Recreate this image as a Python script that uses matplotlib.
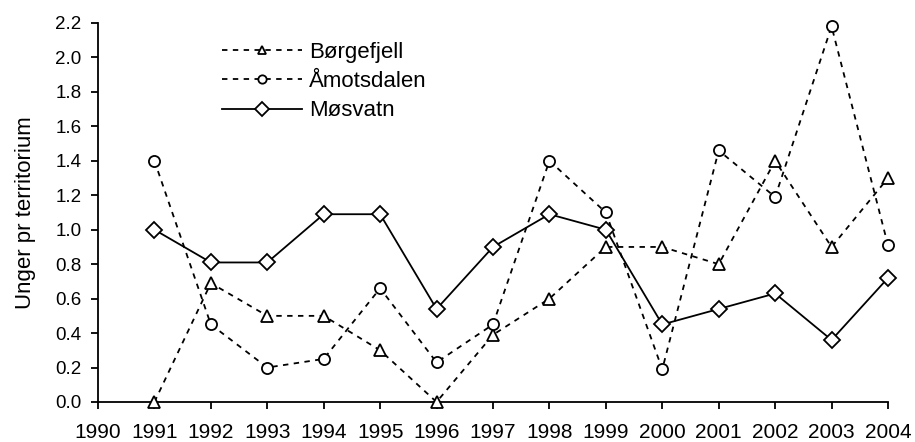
import matplotlib
matplotlib.use("Agg")
import matplotlib.pyplot as plt
from matplotlib.lines import Line2D

years = [1991, 1992, 1993, 1994, 1995, 1996, 1997, 1998, 1999, 2000, 2001, 2002, 2003, 2004]
borgefjell = [0.0, 0.69, 0.50, 0.50, 0.30, 0.0, 0.39, 0.60, 0.90, 0.90, 0.80, 1.40, 0.90, 1.30]
amotsdalen = [1.40, 0.45, 0.20, 0.25, 0.66, 0.23, 0.45, 1.40, 1.10, 0.19, 1.46, 1.19, 2.18, 0.91]
mosvatn = [1.00, 0.81, 0.81, 1.09, 1.09, 0.54, 0.90, 1.09, 1.00, 0.45, 0.54, 0.63, 0.36, 0.72]
series_names = ["Børgefjell", "Åmotsdalen", "Møsvatn"]
xticks = list(range(1990, 2005))
yticks = [0.0, 0.2, 0.4, 0.6, 0.8, 1.0, 1.2, 1.4, 1.6, 1.8, 2.0, 2.2]

plt.rcParams['font.family'] = ['Liberation Sans', 'DejaVu Sans']

fig = plt.figure(figsize=(9.15, 4.42), dpi=100)
ax = fig.add_axes([98/915, 1-402/442, (888-98)/915, (402-23)/442])

dash = (0, (3, 3))
styles = [
    dict(ls=dash, marker='^', ms=9),
    dict(ls=dash, marker='o', ms=8),
    dict(ls='-', marker='D', ms=8),
]
legend_ms = [6, 6, 7]
for vals, name, st in zip([borgefjell, amotsdalen, mosvatn], series_names, styles):
    ax.plot(years, vals, color='black', lw=1.3, ls=st['ls'], marker=st['marker'],
            ms=st['ms'], mfc='white', mec='black', mew=1.3, label=name, clip_on=False,
            zorder=3)

handles = [Line2D([0], [0], color='black', lw=1.3, ls=st['ls'], marker=st['marker'],
                  ms=m, mfc='white', mec='black', mew=1.3)
           for st, m in zip(styles, legend_ms)]

ax.set_xlim(1990, 2004)
ax.set_ylim(0, 2.2)
ax.set_xticks(xticks)
ax.set_xticklabels([str(x) for x in xticks])
ax.set_yticks(yticks)
ax.set_yticklabels([f"{v:.1f}" for v in yticks])
for s in ['top', 'right']:
    ax.spines[s].set_visible(False)
for s in ['left', 'bottom']:
    ax.spines[s].set_linewidth(1.3)
ax.tick_params(direction='out', length=5, width=1.3)
ax.tick_params(axis='x', labelsize=15, pad=10)
ax.tick_params(axis='y', labelsize=13.5, pad=7)
ax.set_ylabel("Unger pr territorium", fontsize=16, labelpad=14)

leg = ax.legend(handles, series_names, loc='upper left', bbox_to_anchor=(0.157, 0.95),
                frameon=False, fontsize=16, handlelength=3.6, handletextpad=0.3,
                labelspacing=0.37, borderpad=0, borderaxespad=0)

fig.savefig("out.png", dpi=100)
